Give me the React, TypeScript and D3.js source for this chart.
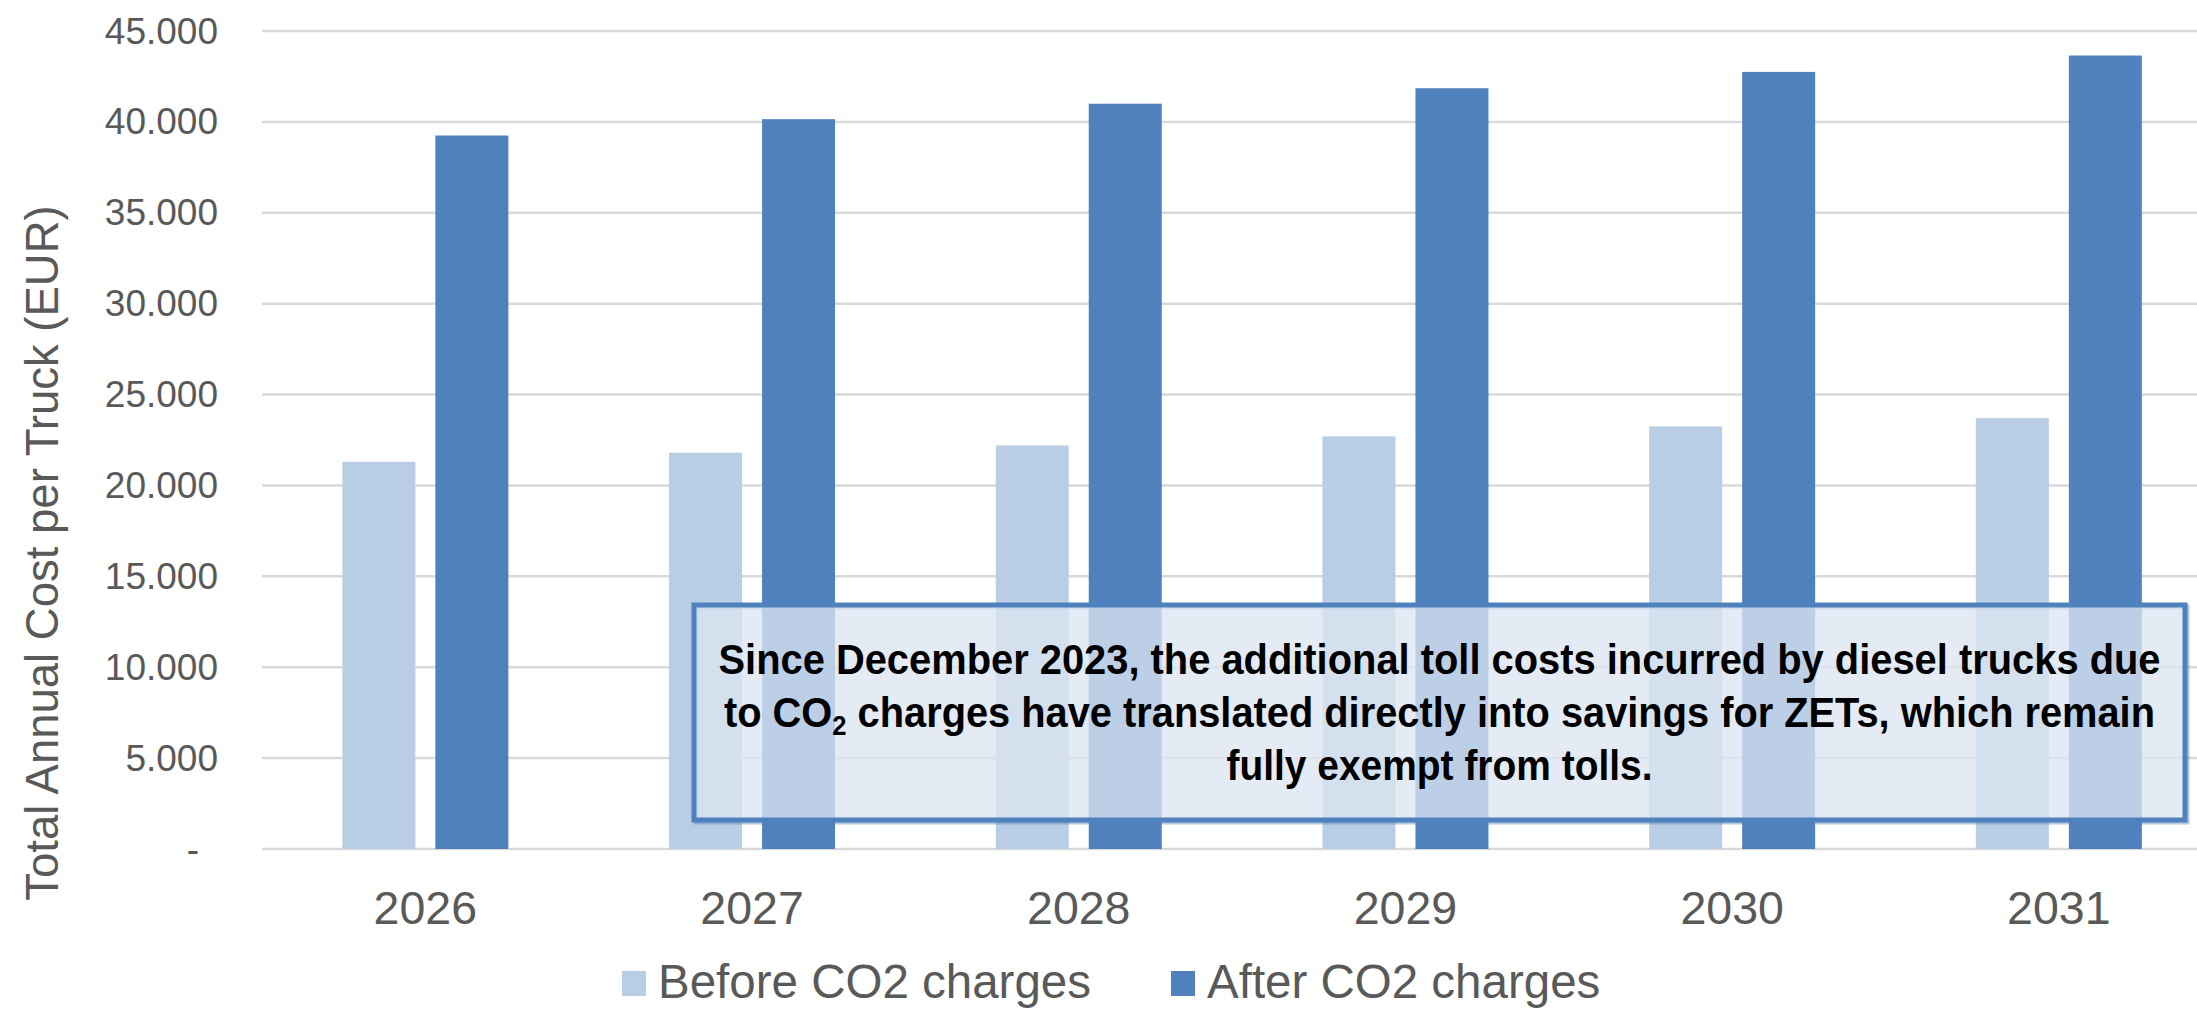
import React, { useLayoutEffect, useRef, useState } from "react";
import * as d3 from "d3";

const categories = ["2026", "2027", "2028", "2029", "2030", "2031"];
const beforeValues = [21300, 21800, 22200, 22700, 23250, 23700];
const afterValues = [39250, 40150, 41000, 41850, 42750, 43650];
const seriesNames = ["Before CO2 charges", "After CO2 charges"];
const seriesColors = ["#b9cde5", "#4f81bd"];
const yTicks = [0, 5000, 10000, 15000, 20000, 25000, 30000, 35000, 40000, 45000];
const yTitle = "Total Annual Cost per Truck (EUR)";
const noteLines = [
  "Since December 2023, the additional toll costs incurred by diesel trucks due",
  "to CO|2| charges have translated directly into savings for ZETs, which remain",
  "fully exempt from tolls.",
];

const W = 2197;
const H = 1010;
const FONT = "'Liberation Sans', Arial, sans-serif";
const TEXT = "#595959";

export default function App() {
  const plotLeft = 262;
  const band = 326.7;
  const y = d3.scaleLinear().domain([0, 45000]).range([849, 31]);
  const x = d3
    .scaleBand<string>()
    .domain(categories)
    .range([plotLeft, plotLeft + band * categories.length])
    .paddingInner(0)
    .paddingOuter(0);
  const sub = d3.scaleBand<string>().domain(seriesNames).range([-93, 93]);
  const barW = 73;
  const series = [beforeValues, afterValues];

  const fmt = (v: number) =>
    v === 0 ? "-" : d3.format(",")(v).replace(/,/g, ".");

  const box = { x: 694, y: 605, w: 1491, h: 215 };
  const noteCx = box.x + box.w / 2;
  const noteBase = [674, 727, 780];
  const noteWidths = [1442, 1431, 426];

  // condense the note lines horizontally to their set widths
  const noteRefs = useRef<(SVGTextElement | null)[]>([]);
  const [noteScale, setNoteScale] = useState<number[]>([0.85, 0.85, 0.85]);
  useLayoutEffect(() => {
    const s = noteRefs.current.map((el, i) => {
      const len = el ? el.getComputedTextLength() : 0;
      return len > 0 ? noteWidths[i] / len : 0.85;
    });
    setNoteScale(s);
  }, []);

  return (
    <svg
      width={W}
      height={H}
      style={{ position: "absolute", left: 0, top: 0, background: "#fff" }}
      fontFamily={FONT}
    >
      <rect x={0} y={0} width={W} height={H} fill="#fff" />
      {/* horizontal gridlines */}
      {yTicks.map((t) => (
        <line
          key={"g" + t}
          x1={plotLeft}
          x2={W}
          y1={y(t)}
          y2={y(t)}
          stroke="#d9d9d9"
          strokeWidth={2.5}
        />
      ))}
      {/* y tick labels */}
      {yTicks.map((t) => (
        <text
          key={"t" + t}
          x={t === 0 ? 199 : 218}
          y={y(t)}
          dy="0.34em"
          textAnchor="end"
          fontSize={37}
          fill={TEXT}
        >
          {fmt(t)}
        </text>
      ))}
      {/* bars */}
      {categories.map((c, i) => {
        const cx = (x(c) as number) + x.bandwidth() / 2;
        return (
          <g key={c}>
            {series.map((vals, s) => (
              <rect
                key={s}
                x={cx + (sub(seriesNames[s]) as number) + (sub.bandwidth() - barW) / 2}
                y={y(vals[i])}
                width={barW}
                height={y(0) - y(vals[i])}
                fill={seriesColors[s]}
              />
            ))}
            <text
              x={cx}
              y={924}
              textAnchor="middle"
              fontSize={46.5}
              fill={TEXT}
            >
              {c}
            </text>
          </g>
        );
      })}
      {/* y axis title */}
      <text
        transform={`translate(58, 553) rotate(-90)`}
        textAnchor="middle"
        fontSize={45.5}
        fill={TEXT}
      >
        {yTitle}
      </text>
      {/* annotation box */}
      <rect
        x={box.x + 2}
        y={box.y + 2}
        width={box.w}
        height={box.h}
        fill="none"
        stroke="#4f81bd"
        strokeOpacity={0.45}
        strokeWidth={5}
      />
      <rect
        x={box.x}
        y={box.y}
        width={box.w}
        height={box.h}
        fill="#dce6f2"
        fillOpacity={0.78}
        stroke="#4f81bd"
        strokeWidth={5}
      />
      {noteLines.map((line, li) => {
        const parts = line.split("|");
        return (
          <g
            key={li}
            transform={`translate(${noteCx}, ${noteBase[li]}) scale(${noteScale[li]}, 1)`}
          >
            <text
              ref={(el) => {
                noteRefs.current[li] = el;
              }}
              x={0}
              y={0}
              textAnchor="middle"
              fontSize={42}
              fontWeight="bold"
              fill="#000"
            >
              {parts.length === 1
                ? line
                : [
                    <tspan key="a">{parts[0]}</tspan>,
                    <tspan key="b" fontSize={27} dy={8}>
                      {parts[1]}
                    </tspan>,
                    <tspan key="c" dy={-8}>
                      {parts[2]}
                    </tspan>,
                  ]}
            </text>
          </g>
        );
      })}
      {/* legend */}
      {seriesNames.map((name, s) => {
        const sx = [622, 1171][s];
        return (
          <g key={name}>
            <rect x={sx} y={971} width={24} height={25} fill={seriesColors[s]} />
            <text x={sx + 36} y={998} fontSize={47.5} fill={TEXT}>
              {name}
            </text>
          </g>
        );
      })}
    </svg>
  );
}
